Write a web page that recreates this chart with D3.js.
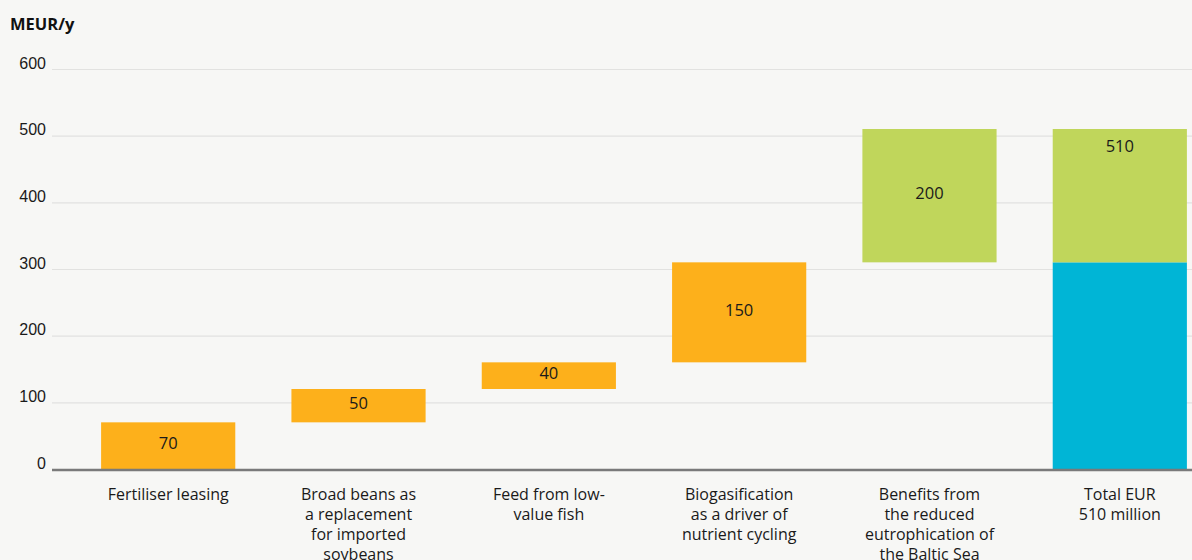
<!DOCTYPE html>
<html>
<head>
<meta charset="utf-8">
<script src="https://cdn.jsdelivr.net/npm/d3@7"></script>
<style>
  body { margin: 0; background: #f7f7f5; }
  svg { display: block; font-family: "Open Sans", sans-serif; }
  .grid line { stroke: #e2e2e0; stroke-width: 1.2; }
  .grid .domain { display: none; }
  .axis--y text { font-size: 16px; fill: #1a1a1a; }
  .axis--y .domain, .axis--y line { display: none; }
  .cat text { font-size: 16px; fill: #1a1a1a; }
  .val { font-size: 16.5px; fill: #1a1a1a; }
</style>
</head>
<body>
<svg width="1192" height="560"></svg>
<script>
// categories, one entry per line of the wrapped label
var categories = [
  ["Fertiliser leasing"],
  ["Broad beans as", "a replacement", "for imported", "soybeans"],
  ["Feed from low-", "value fish"],
  ["Biogasification", "as a driver of", "nutrient cycling"],
  ["Benefits from", "the reduced", "eutrophication of", "the Baltic Sea"],
  ["Total EUR", "510 million"]
];
// waterfall steps (MEUR/y)
var values = [70, 50, 40, 150, 200];
// total bar split: business measures / eutrophication benefits
var totalParts = [310, 200];
var totalLabel = 510;
var yTicks = [0, 100, 200, 300, 400, 500, 600];

var svg = d3.select("svg"),
    margin = {top: 69, left: 52, bottom: 91},
    height = 560 - margin.top - margin.bottom;

var orange = "#fdb01b", green = "#c0d65b", blue = "#00b5d6";

var x = d3.scaleBand()
    .domain(d3.range(categories.length))
    .range([margin.left, 1236])
    .paddingInner(0.295)
    .paddingOuter(0.258);

var y = d3.scaleLinear().domain([0, 600]).range([margin.top + height, margin.top]);

// gridlines
svg.append("g")
    .attr("class", "grid")
    .attr("transform", "translate(" + margin.left + ",0)")
    .call(d3.axisLeft(y).tickValues(yTicks.slice(1)).tickSize(-(1192 - margin.left)).tickFormat(""));

// tick labels
svg.append("g")
    .attr("class", "axis axis--y")
    .attr("transform", "translate(" + (margin.left - 6) + ",0)")
    .call(d3.axisLeft(y).tickValues(yTicks).tickSize(0).tickPadding(0))
    .selectAll("text").attr("dy", "-0.05em");

svg.append("text")
    .attr("x", 10).attr("y", 30)
    .style("font-size", "16.5px").style("font-weight", "bold").attr("fill", "#111")
    .text("MEUR/y");

// waterfall steps
var cum = 0;
var steps = values.map(function(v, i) {
  var s = {i: i, v: v, start: cum, end: cum + v};
  cum += v;
  return s;
});

var step = svg.selectAll(".step").data(steps).enter().append("g").attr("class", "step");
step.append("rect")
    .attr("x", function(d) { return x(d.i); })
    .attr("width", x.bandwidth())
    .attr("y", function(d) { return y(d.end); })
    .attr("height", function(d) { return y(d.start) - y(d.end); })
    .attr("fill", function(d, i) { return i === values.length - 1 ? green : orange; });
step.append("text")
    .attr("class", "val")
    .attr("x", function(d) { return x(d.i) + x.bandwidth() / 2; })
    .attr("y", function(d) { return (y(d.start) + y(d.end)) / 2; })
    .attr("dy", "0.2em")
    .attr("text-anchor", "middle")
    .text(function(d) { return d.v; });

// total bar
var ti = categories.length - 1, base = 0;
totalParts.forEach(function(v, k) {
  svg.append("rect")
      .attr("x", x(ti)).attr("width", x.bandwidth())
      .attr("y", y(base + v)).attr("height", y(base) - y(base + v))
      .attr("fill", k === 0 ? blue : green);
  base += v;
});
svg.append("text")
    .attr("class", "val")
    .attr("x", x(ti) + x.bandwidth() / 2)
    .attr("y", y(base) + 17)
    .attr("dy", "0.35em")
    .attr("text-anchor", "middle")
    .text(totalLabel);

// baseline
svg.append("line")
    .attr("x1", margin.left).attr("x2", 1192)
    .attr("y1", y(0) + 1).attr("y2", y(0) + 1)
    .attr("stroke", "#7a7a7a").attr("stroke-width", 2.5);

// category labels
var cat = svg.selectAll(".cat").data(categories).enter().append("g").attr("class", "cat")
    .attr("transform", function(d, i) { return "translate(" + (x(i) + x.bandwidth() / 2) + "," + (y(0) + 31) + ")"; });
cat.selectAll("text").data(function(d) { return d; }).enter().append("text")
    .attr("text-anchor", "middle")
    .attr("y", function(d, j) { return j * 20; })
    .text(function(d) { return d; });
</script>
</body>
</html>
